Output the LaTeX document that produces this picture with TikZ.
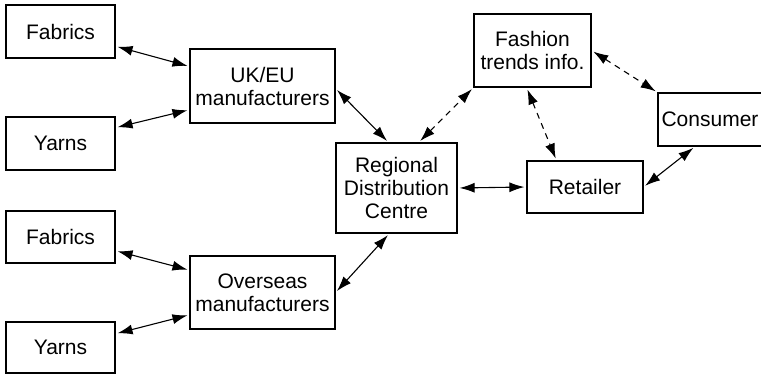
\documentclass[tikz,border=0pt]{standalone}
\usepackage{fontspec}
\setmainfont{Liberation Sans}
\usetikzlibrary{arrows.meta}

\begin{document}
\begin{tikzpicture}[x=0.5pt, y=-0.5pt,
		box/.style={draw, line width=0.6pt, inner sep=0pt, align=center, font=\fontsize{10.5}{11.5}\selectfont},
		link/.style={{Latex[length=7.5pt,width=5pt]}-{Latex[length=7.5pt,width=5pt]}, line width=0.55pt, shorten <=1pt, shorten >=1pt},
		trend/.style={link, dash pattern=on 3pt off 2.5pt}]
		\useasboundingbox (0,0) rectangle (761,374) ;
		% suppliers
		\node[box, minimum width=54.5pt, minimum height=26.5pt] (fabA) at (60.5,31.5) {Fabrics} ;
		\node[box, minimum width=54.5pt, minimum height=26.5pt] (yarnA) at (60.5,143.5) {Yarns} ;
		\node[box, minimum width=54.5pt, minimum height=26pt] (fabB) at (60.5,237) {Fabrics} ;
		\node[box, minimum width=54.5pt, minimum height=25.5pt] (yarnB) at (60.5,347.5) {Yarns} ;
		% manufacturers
		\node[box, minimum width=72.5pt, minimum height=37pt] (ukeu) at (262.5,86) {UK/EU\\manufacturers} ;
		\node[box, minimum width=72.5pt, minimum height=36.5pt] (over) at (262.5,292.5) {Overseas\\manufacturers} ;
		% distribution and sales
		\node[box, minimum width=60.5pt, minimum height=45pt] (rdc) at (396.5,188) {Regional\\Distribution\\Centre} ;
		\node[box, minimum width=58.5pt, minimum height=36.5pt] (trends) at (532.5,50.5) {Fashion\\trends info.} ;
		\node[box, minimum width=58pt, minimum height=26pt] (retail) at (585,187) {Retailer} ;
		\node[box, minimum width=52pt, minimum height=26.5pt] (cons) at (710,119.5) {Consumer} ;
		% links
		\draw[link] (fabA.-15) -- (ukeu.165) ;
		\draw[link] (yarnA.16) -- (ukeu.198) ;
		\draw[link] (fabB.-14) -- (over.163) ;
		\draw[link] (yarnB.14) -- (over.197) ;
		\draw[link] (ukeu.-2) -- (rdc.100) ;
		\draw[link] (over.east) -- (rdc.261) ;
		\draw[link] (rdc.east) -- (retail.west) ;
		\draw[link] (cons.241) -- (retail.east) ;
		\draw[trend] (rdc.64) -- (trends.south west) ;
		\draw[trend] (trends.261) -- (retail.137) ;
		\draw[trend] (trends.east) -- (cons.north west) ;
	\end{tikzpicture}
\end{document}
